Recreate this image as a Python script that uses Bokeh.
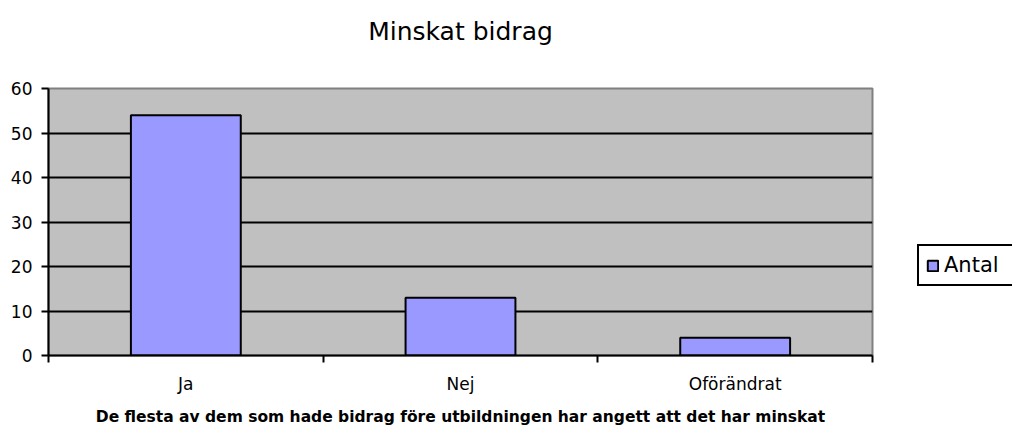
from bokeh.plotting import figure
from bokeh.models import Range1d, FixedTicker, Legend, LegendItem, LinearAxis
from bokeh.embed import file_html
from bokeh.resources import INLINE

# ---- data ----
categories = ["Ja", "Nej", "Oförändrat"]
values = [54, 13, 4]
y_ticks = [0, 10, 20, 30, 40, 50, 60]
series_name = "Antal"
chart_title = "Minskat bidrag"
x_title = "De flesta av dem som hade bidrag före utbildningen har angett att det har minskat"

x_centers = [i + 0.5 for i in range(len(categories))]
boundaries = list(range(len(categories) + 1))

p = figure(frame_width=824, frame_height=267, output_backend="svg", toolbar_location=None,
           x_range=Range1d(0, len(categories)), y_range=Range1d(y_ticks[0], y_ticks[-1]),
           min_border_left=48, min_border_right=140, min_border_top=88, min_border_bottom=73,
           background_fill_color="#C0C0C0", border_fill_color="white",
           outline_line_color="#808080", outline_line_width=2)
p.title = None

xa = p.below[0]
ya = p.left[0]

r = p.vbar(x=x_centers, top=values, bottom=0, width=0.4,
           fill_color="#9999FF", line_color="black", line_width=2)

# chart title, carried by a bare axis above the frame
top_axis = LinearAxis(ticker=FixedTicker(ticks=[], minor_ticks=[]),
                      axis_line_color=None, major_tick_line_color=None,
                      minor_tick_line_color=None, major_tick_out=0, major_tick_in=0,
                      minor_tick_out=0, minor_tick_in=0,
                      axis_label=chart_title, axis_label_standoff=43,
                      axis_label_text_font="DejaVu Sans", axis_label_text_font_style="normal",
                      axis_label_text_font_size="25px", axis_label_text_color="black")
p.add_layout(top_axis, "above")

# x axis
xa.ticker = FixedTicker(ticks=x_centers, minor_ticks=boundaries)
xa.major_label_overrides = {x: c for x, c in zip(x_centers, categories)}
xa.major_tick_out = 0
xa.major_tick_in = 0
xa.minor_tick_out = 7
xa.minor_tick_in = 0
xa.minor_tick_line_color = "black"
xa.minor_tick_line_width = 2
xa.axis_line_color = "black"
xa.axis_line_width = 2
xa.major_label_text_font = "DejaVu Sans"
xa.major_label_text_font_size = "17px"
xa.major_label_text_color = "black"
xa.major_label_standoff = 11
xa.axis_label = x_title
xa.axis_label_text_font = "DejaVu Sans"
xa.axis_label_text_font_style = "bold"
xa.axis_label_text_font_size = "15.5px"
xa.axis_label_text_color = "black"
xa.axis_label_standoff = 11

# y axis
ya.ticker = FixedTicker(ticks=y_ticks, minor_ticks=[])
ya.major_tick_out = 7
ya.major_tick_in = 0
ya.major_tick_line_color = "black"
ya.major_tick_line_width = 2
ya.axis_line_color = "black"
ya.axis_line_width = 2
ya.major_label_text_font = "DejaVu Sans"
ya.major_label_text_font_size = "17px"
ya.major_label_text_color = "black"
ya.major_label_standoff = 9

# grid
p.xgrid.visible = False
p.ygrid.ticker = FixedTicker(ticks=y_ticks[1:-1])
p.ygrid.grid_line_color = "black"
p.ygrid.grid_line_width = 2

# legend (outside the frame, on the right)
legend = Legend(items=[LegendItem(label=series_name, renderers=[r])],
                location=(45, 69), border_line_color="black", border_line_width=2,
                border_line_alpha=1.0,
                background_fill_color="white", background_fill_alpha=1.0,
                glyph_width=13, glyph_height=13, label_standoff=5, label_width=70,
                label_text_font="DejaVu Sans", label_text_font_size="21px",
                label_text_color="black", padding=7, margin=0, spacing=0)
p.add_layout(legend, "right")

open("out.html", "w").write(file_html(p, INLINE))
